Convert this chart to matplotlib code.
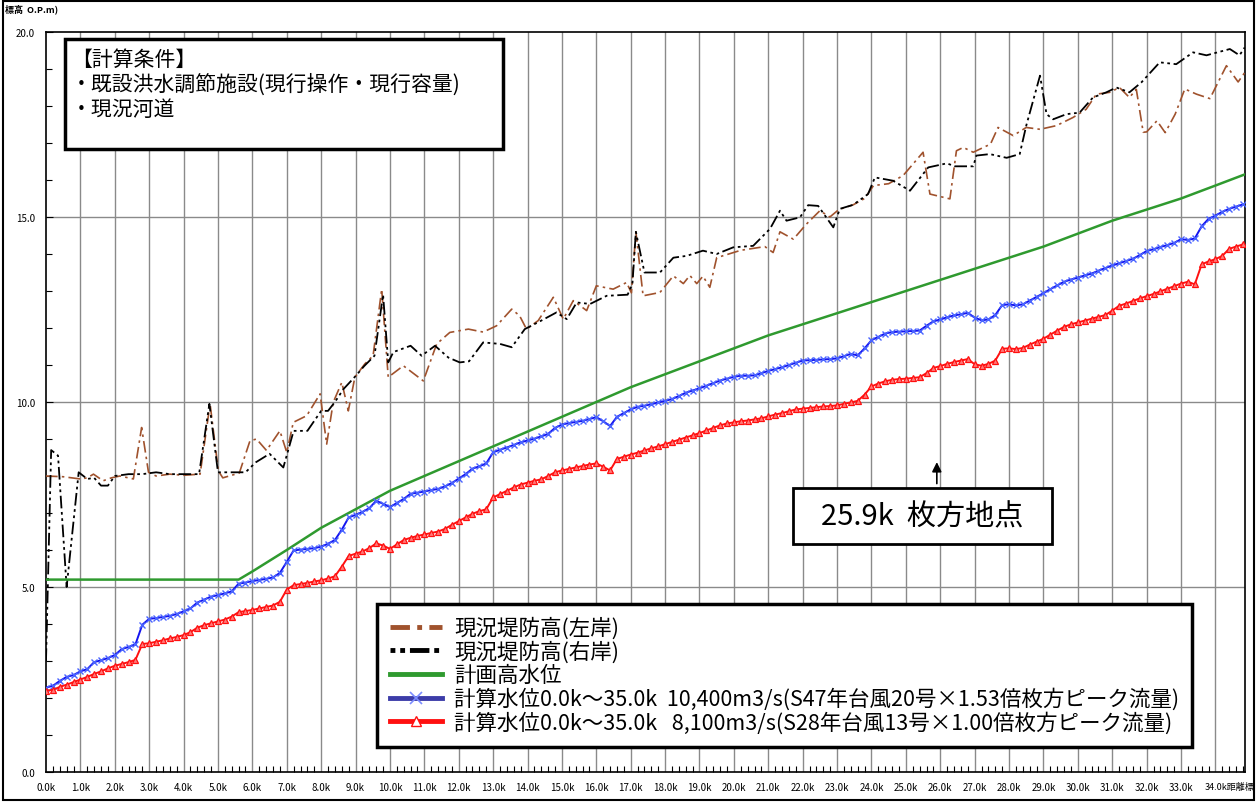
import numpy as np
import matplotlib.pyplot as plt
import matplotlib.patches as mpatches
from matplotlib.lines import Line2D
from matplotlib.ticker import MultipleLocator

plt.rcParams["font.family"] = ["Noto Sans CJK JP", "DejaVu Sans"]

# ---- data ----
# survey stations every 0.2k for the computed water levels
station_km = np.round(np.arange(0, 34.81, 0.2), 1)

wl_10400 = [
    2.28, 2.33, 2.46, 2.57, 2.62, 2.72, 2.78, 2.97, 3.02, 3.08,
    3.16, 3.32, 3.38, 3.45, 3.98, 4.14, 4.16, 4.19, 4.22, 4.27,
    4.34, 4.42, 4.58, 4.66, 4.74, 4.78, 4.83, 4.88, 5.09, 5.12,
    5.16, 5.19, 5.22, 5.26, 5.38, 5.68, 5.99, 6.01, 6.03, 6.05,
    6.09, 6.17, 6.27, 6.55, 6.88, 6.95, 7.03, 7.13, 7.33, 7.25,
    7.16, 7.27, 7.38, 7.52, 7.55, 7.58, 7.62, 7.65, 7.72, 7.81,
    7.93, 8.05, 8.20, 8.26, 8.34, 8.64, 8.71, 8.77, 8.84, 8.91,
    8.96, 9.01, 9.07, 9.14, 9.30, 9.39, 9.43, 9.46, 9.49, 9.54,
    9.59, 9.48, 9.35, 9.60, 9.70, 9.80, 9.87, 9.90, 9.94, 9.99,
    10.03, 10.08, 10.16, 10.25, 10.31, 10.37, 10.44, 10.51, 10.58, 10.63,
    10.68, 10.71, 10.71, 10.72, 10.78, 10.84, 10.89, 10.94, 11.00, 11.06,
    11.12, 11.13, 11.14, 11.15, 11.16, 11.18, 11.24, 11.30, 11.26, 11.45,
    11.67, 11.76, 11.85, 11.89, 11.90, 11.91, 11.92, 11.93, 12.06, 12.18,
    12.23, 12.29, 12.34, 12.37, 12.41, 12.28, 12.21, 12.23, 12.35, 12.62,
    12.64, 12.61, 12.64, 12.74, 12.84, 12.94, 13.05, 13.15, 13.25, 13.31,
    13.36, 13.42, 13.47, 13.55, 13.62, 13.69, 13.75, 13.81, 13.87, 13.97,
    14.08, 14.13, 14.19, 14.24, 14.30, 14.40, 14.38, 14.42, 14.75, 14.95,
    15.04, 15.14, 15.22, 15.28, 15.34,
]

wl_8100 = [
    2.20, 2.22, 2.30, 2.36, 2.43, 2.50, 2.57, 2.65, 2.72, 2.80,
    2.87, 2.92, 2.97, 3.03, 3.46, 3.48, 3.52, 3.56, 3.61, 3.65,
    3.70, 3.78, 3.90, 3.97, 4.02, 4.07, 4.12, 4.20, 4.32, 4.35,
    4.38, 4.42, 4.46, 4.50, 4.60, 4.93, 5.05, 5.08, 5.11, 5.15,
    5.18, 5.23, 5.29, 5.55, 5.84, 5.90, 5.96, 6.05, 6.18, 6.12,
    6.03, 6.15, 6.27, 6.33, 6.38, 6.42, 6.46, 6.50, 6.57, 6.68,
    6.78, 6.88, 6.98, 7.05, 7.10, 7.42, 7.51, 7.60, 7.69, 7.77,
    7.82, 7.87, 7.91, 8.00, 8.10, 8.15, 8.19, 8.23, 8.27, 8.31,
    8.34, 8.25, 8.15, 8.46, 8.52, 8.58, 8.63, 8.69, 8.75, 8.80,
    8.86, 8.92, 8.98, 9.04, 9.10, 9.16, 9.23, 9.30, 9.37, 9.42,
    9.45, 9.48, 9.50, 9.53, 9.56, 9.61, 9.66, 9.70, 9.75, 9.80,
    9.82, 9.84, 9.86, 9.88, 9.89, 9.91, 9.95, 9.99, 10.03, 10.20,
    10.42, 10.50, 10.56, 10.60, 10.62, 10.63, 10.65, 10.67, 10.78, 10.92,
    10.97, 11.03, 11.08, 11.12, 11.16, 11.02, 10.98, 11.03, 11.12, 11.44,
    11.45, 11.43, 11.46, 11.55, 11.63, 11.71, 11.82, 11.93, 12.03, 12.10,
    12.15, 12.20, 12.25, 12.30, 12.35, 12.47, 12.60, 12.66, 12.73, 12.80,
    12.86, 12.92, 12.99, 13.06, 13.13, 13.20, 13.25, 13.18, 13.72, 13.80,
    13.86, 13.95, 14.14, 14.20, 14.26,
]

# planned high water level
hwl_km = [0.0, 5.6, 6.0, 7.0, 8.0, 9.0, 10.0, 11.0, 12.0, 13.0, 14.0, 15.0,
          16.0, 17.0, 18.0, 19.0, 20.0, 21.0, 22.0, 23.0, 24.0, 25.0, 26.0,
          27.0, 28.0, 29.0, 30.0, 31.0, 32.0, 33.0, 34.0, 34.85]
hwl_val = [5.2, 5.2, 5.42, 6.0, 6.6, 7.1, 7.6, 8.0, 8.4, 8.8, 9.2, 9.6,
           10.0, 10.4, 10.75, 11.1, 11.45, 11.8, 12.1, 12.4, 12.7, 13.0, 13.3,
           13.6, 13.9, 14.2, 14.55, 14.9, 15.2, 15.5, 15.85, 16.15]

# existing levee crown, left bank
left_km = [0.0, 0.5, 1.0, 1.2, 1.38, 1.66, 1.9, 2.15, 2.54, 2.78, 2.98, 3.2,
           3.6, 4.0, 4.48, 4.77, 5.01, 5.14, 5.62, 5.93, 6.12, 6.41, 6.8, 7.0,
           7.19, 7.58, 7.97, 8.16, 8.35, 8.6, 8.79, 8.98, 9.27, 9.51, 9.76,
           9.95, 10.39, 10.97, 11.36, 11.74, 12.28, 12.71, 13.1, 13.54, 13.77,
           13.97, 14.31, 14.75, 15.04, 15.33, 15.72, 16.0, 16.49, 16.88, 17.02,
           17.15, 17.36, 17.85, 18.24, 18.53, 18.72, 18.92, 19.1, 19.3, 19.5,
           20.2, 20.9, 21.14, 21.34, 21.73, 22.1, 22.5, 22.79, 23.05, 23.47,
           23.8, 24.06, 24.5, 24.92, 25.5, 25.7, 26.28, 26.47, 26.67, 26.96,
           27.46, 27.68, 28.12, 28.5, 28.9, 29.38, 29.86, 30.24, 30.54, 30.93,
           31.21, 31.5, 31.7, 31.9, 32.0, 32.3, 32.54, 32.83, 33.11, 33.45,
           33.84, 34.32, 34.66, 34.85]
left_val = [8.0, 7.98, 7.92, 7.95, 8.05, 7.87, 7.95, 8.0, 7.92, 9.31, 8.1, 8.0,
            8.05, 8.02, 8.05, 9.95, 8.14, 7.95, 8.08, 8.95, 9.0, 8.69, 9.22, 8.64,
            9.45, 9.63, 10.22, 8.86, 9.99, 10.53, 9.76, 10.67, 11.03, 11.25, 13.05,
            10.67, 10.98, 10.57, 11.57, 11.88, 11.97, 11.89, 12.06, 12.51, 12.33,
            11.97, 12.2, 12.83, 12.24, 12.74, 12.47, 13.14, 13.05, 13.23, 12.95,
            14.6, 12.87, 12.96, 13.41, 13.2, 13.42, 13.2, 13.4, 13.1, 13.9,
            14.1, 14.2, 14.04, 14.6, 14.4, 14.8, 15.17, 15.0, 15.2, 15.33,
            15.5, 15.85, 15.9, 16.12, 16.75, 15.62, 15.49, 16.79, 16.88, 16.75,
            16.97, 17.42, 17.2, 17.42, 17.37, 17.47, 17.69, 17.91, 18.32, 18.37,
            18.5, 18.23, 18.45, 17.29, 17.3, 17.6, 17.28, 17.78, 18.46, 18.32,
            18.2, 19.09, 18.65, 18.9]

# existing levee crown, right bank
right_km = [0.0, 0.15, 0.35, 0.6, 0.95, 1.2, 1.4, 1.6, 1.8, 2.0, 2.4, 2.8,
            3.2, 3.6, 4.0, 4.45, 4.75, 5.0, 5.4, 5.8, 6.1, 6.5, 6.9, 7.2, 7.6,
            8.0, 8.2, 8.4, 8.65, 9.0, 9.25, 9.55, 9.8, 9.95, 10.1, 10.6, 10.92,
            11.31, 11.7, 12.03, 12.3, 12.71, 13.2, 13.54, 13.92, 14.4, 14.84,
            15.14, 15.43, 15.82, 16.3, 16.91, 17.05, 17.15, 17.4, 17.85, 18.24,
            18.63, 19.1, 19.5, 19.98, 20.56, 21.05, 21.34, 21.53, 21.92, 22.16,
            22.45, 22.89, 23.08, 23.47, 23.9, 24.1, 24.63, 25.12, 25.65, 26.19,
            26.43, 26.96, 27.05, 27.44, 27.93, 28.31, 28.5, 28.9, 29.09, 29.28,
            29.67, 30.05, 30.44, 30.83, 31.12, 31.5, 31.85, 32.38, 32.86, 33.35,
            33.74, 34.42, 34.7, 34.85]
right_val = [3.0, 8.7, 8.55, 5.0, 8.1, 7.92, 7.95, 7.74, 7.74, 8.0, 8.05, 8.05,
             8.1, 8.05, 8.05, 8.05, 9.95, 8.1, 8.1, 8.1, 8.37, 8.6, 8.23, 9.22, 9.22,
             9.76, 9.76, 10.0, 10.35, 10.7, 10.97, 11.25, 12.9, 11.07, 11.35, 11.52, 11.25,
             11.52, 11.2, 11.07, 11.1, 11.61, 11.57, 11.48, 11.97, 12.2, 12.42,
             12.24, 12.69, 12.65, 12.87, 12.9, 13.2, 14.6, 13.5, 13.5, 13.9,
             13.95, 14.09, 14.0, 14.18, 14.22, 14.68, 15.17, 14.9, 14.99, 15.32,
             15.3, 14.72, 15.22, 15.33, 15.62, 16.07, 15.98, 15.71, 16.34, 16.45,
             16.37, 16.37, 16.66, 16.7, 16.6, 16.7, 17.47, 18.82, 17.78, 17.64,
             17.78, 17.82, 18.23, 18.37, 18.5, 18.37, 18.64, 19.18, 19.13, 19.45,
             19.37, 19.54, 19.37, 19.58]

x_ticks = list(range(0, 35))
x_tick_labels = [f"{k}.0k" for k in x_ticks[:-1]] + [""]
last_tick_label = "34.0k距離標"
y_ticks = [0, 5, 10, 15, 20]

legend_labels = [
    "現況堤防高(左岸)",
    "現況堤防高(右岸)",
    "計画高水位",
    "計算水位0.0k～35.0k  10,400m3/s(S47年台風20号×1.53倍枚方ピーク流量)",
    "計算水位0.0k～35.0k   8,100m3/s(S28年台風13号×1.00倍枚方ピーク流量)",
]
condition_text = "【計算条件】\n・既設洪水調節施設(現行操作・現行容量)\n・現況河道"
point_km = 25.9
point_label = "25.9k  枚方地点"

BROWN = "#a0522d"
GREEN = "#2f9a2f"
BLUE = "#1414f0"
RED = "#ff1010"
LEFT_DASH = (0, (7, 2.5, 1.5, 2.5))
RIGHT_DASH = (0, (7, 2, 1.5, 2, 1.5, 2))


def plot_profile(save_path="out.png"):
    fig = plt.figure(figsize=(12.57, 8.03), dpi=100)
    ax = fig.add_axes([46 / 1257, 30 / 803, 1199 / 1257, 740 / 803])

    # grid: every km vertically, 5m horizontally
    for k in x_ticks[1:]:
        ax.axvline(k, color="#8a8a8a", lw=1.0, zorder=0)
    for v in y_ticks[1:-1]:
        ax.axhline(v, color="#8a8a8a", lw=1.0, zorder=0)

    ax.plot(left_km, left_val, color=BROWN, lw=1.2, ls=LEFT_DASH, zorder=3)
    ax.plot(right_km, right_val, color="black", lw=1.3, ls=RIGHT_DASH, zorder=3)
    ax.plot(hwl_km, hwl_val, color=GREEN, lw=1.8, zorder=4)
    ax.plot(station_km, wl_10400, color=BLUE, lw=1.4, marker="x", ms=4.5,
            mew=1.0, mec="#4a64ff", zorder=5)
    ax.plot(station_km, wl_8100, color=RED, lw=1.4, marker="^", ms=4.2,
            mew=0.9, mec=RED, mfc="#ff7a7a", zorder=5)

    ax.set_xlim(0, 34.86)
    ax.set_ylim(0, 20)
    ax.set_xticks(x_ticks)
    ax.set_xticklabels(x_tick_labels)
    ax.set_yticks(y_ticks)
    ax.set_yticklabels([f"{v:.1f}" for v in y_ticks])
    ax.xaxis.set_minor_locator(MultipleLocator(0.2))
    ax.yaxis.set_minor_locator(MultipleLocator(1))
    ax.tick_params(axis="x", which="major", length=0, pad=7, labelsize=7)
    ax.tick_params(axis="x", which="minor", direction="in", length=4, width=0.8)
    ax.tick_params(axis="y", which="major", direction="in", length=5, pad=8, labelsize=7)
    ax.tick_params(axis="y", which="minor", direction="in", length=4, width=0.8)
    for sp in ax.spines.values():
        sp.set_linewidth(1.2)

    # last station label runs into the axis title "距離標"
    fig.text(1254 / 1257, 1 - 788 / 803, last_tick_label, fontsize=6.5,
             va="center", ha="right")
    fig.text(5 / 1257, 1 - 9 / 803, "標高  O.P.m)", fontsize=6.5,
             va="center", ha="left", fontweight="bold")

    # calculation conditions box
    ax.add_patch(mpatches.Rectangle((0.0158, 0.842), 0.365, 0.149,
                                    transform=ax.transAxes, fill=True,
                                    facecolor="white", edgecolor="black",
                                    lw=2.5, zorder=6))
    ax.text(0.021, 0.978, condition_text, transform=ax.transAxes, fontsize=15,
            va="top", ha="left", linespacing=1.15, zorder=7)

    # Hirakata point marker
    ax.annotate("", xy=(point_km, 8.45), xytext=(point_km, 7.72),
                arrowprops=dict(arrowstyle="-|>", color="black", lw=1.2,
                                mutation_scale=14), zorder=6)
    ax.add_patch(mpatches.Rectangle((0.623, 0.308), 0.216, 0.0757,
                                    transform=ax.transAxes, facecolor="white",
                                    edgecolor="black", lw=2.0, zorder=6))
    ax.text(0.7306, 0.346, point_label, transform=ax.transAxes, fontsize=21,
            va="center", ha="center", zorder=7)

    handles = [
        Line2D([], [], color=BROWN, lw=3.5, ls=(0, (4, 1.5, 1, 1.5))),
        Line2D([], [], color="black", lw=3.5, ls=(0, (1, 1, 1, 1, 4, 1))),
        Line2D([], [], color=GREEN, lw=3.5),
        Line2D([], [], color="#3c3ca8", lw=3.5, marker="x", ms=8, mew=1.2,
               mec="#7b8cff"),
        Line2D([], [], color=RED, lw=3.5, marker="^", ms=7, mfc="white",
               mec=RED),
    ]
    leg = ax.legend(handles, legend_labels, loc="lower left",
                    bbox_to_anchor=(0.276, 0.034), fontsize=15.5,
                    frameon=True, fancybox=False, framealpha=1,
                    edgecolor="black", handlelength=2.4, borderpad=0.6,
                    labelspacing=0.06, handletextpad=0.6, borderaxespad=0)
    leg.get_frame().set_linewidth(2.5)
    leg.set_zorder(8)

    fig.patches.append(mpatches.Rectangle((0.002, 0.003), 0.996, 0.994,
                                          transform=fig.transFigure,
                                          fill=False, lw=1.5,
                                          edgecolor="black"))

    fig.savefig(save_path, dpi=100)
    plt.close(fig)


if __name__ == "__main__":
    plot_profile()
